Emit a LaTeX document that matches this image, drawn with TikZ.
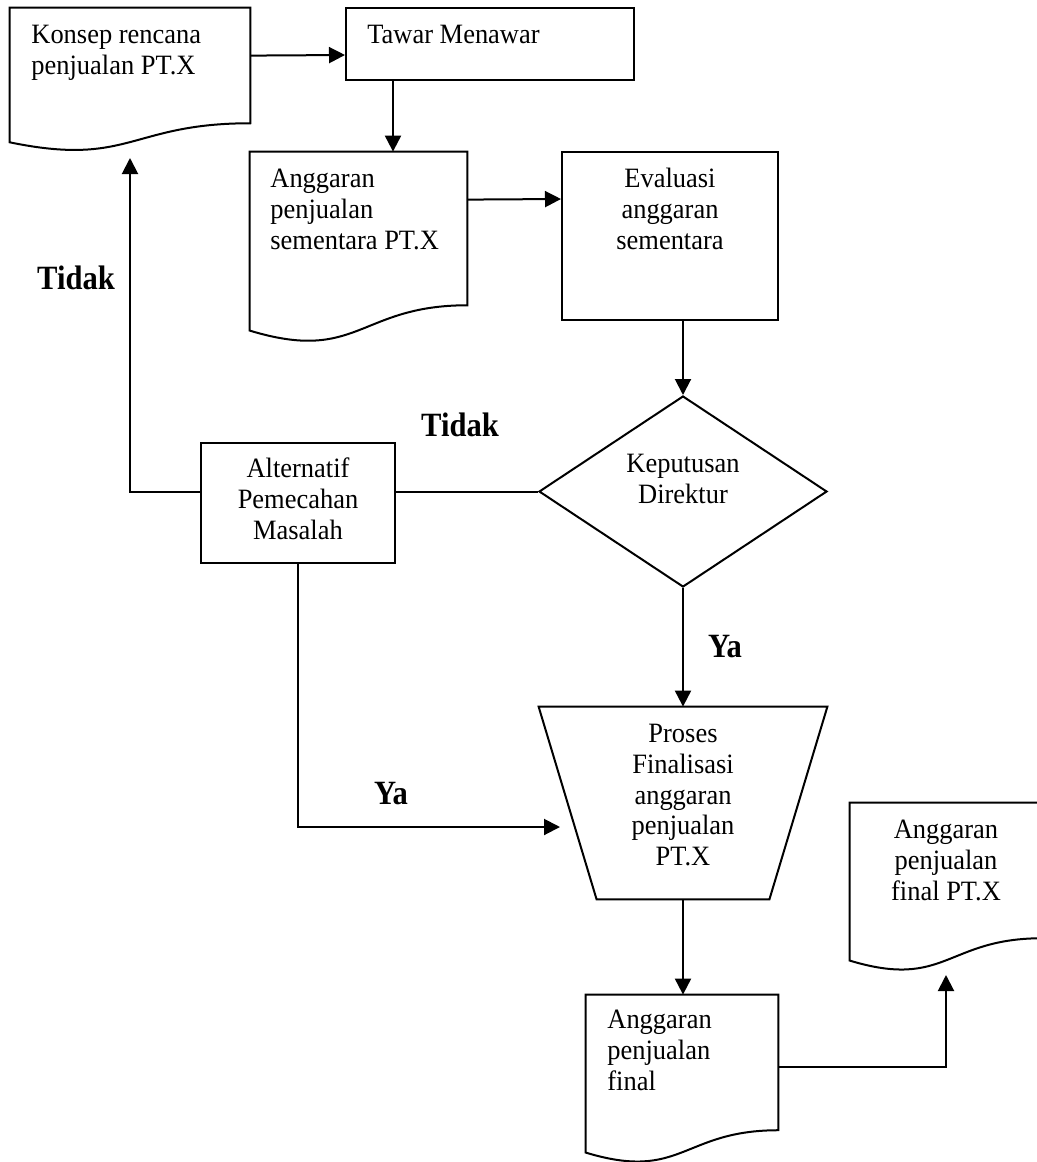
\documentclass[tikz,border=0pt]{standalone}
\usepackage{fontspec}
\setmainfont{Liberation Serif}
\newfontfamily\bodyfont[FakeStretch=0.945]{Liberation Serif}
\newfontfamily\lblfont[FakeStretch=0.9]{Liberation Serif Bold}
\usetikzlibrary{arrows.meta,calc,fit,shapes.geometric}
\newcommand\firstln{\rule{0pt}{12pt}}
\newcommand\docoutline[1]{%
  \draw[shapeline] (#1.north west) -- (#1.north east)
    -- ($(#1.north east)!0.802!(#1.south east)$)
    .. controls ($(#1.north)!0.802!(#1.south)$) and ($(#1.north)!1.107!(#1.south)$)
    .. ($(#1.north west)!0.934!(#1.south west)$) -- cycle;}
\begin{document}
\begin{tikzpicture}[x=0.5pt,y=-0.5pt,
  shapeline/.style={line width=1pt, line join=miter},
  rbox/.style={draw, line width=1pt, inner sep=0pt},
  docbox/.style={draw=none, inner sep=0pt},
  arr/.style={line width=1pt, -{Triangle[length=8pt,width=8pt]}},
  conn/.style={line width=1pt},
  txt/.style={inner sep=0pt, font=\bodyfont\fontsize{14}{15.4}\selectfont},
  ltxt/.style={txt, anchor=north west, align=left},
  ctxt/.style={txt, anchor=north, align=center},
  lbl/.style={inner sep=0pt, anchor=base, font=\lblfont\fontsize{17}{20}\selectfont}]
\useasboundingbox (0,0) rectangle (1037,1162);
\fill[white] (0,0) rectangle (1037,1162);
\clip (0,0) rectangle (1037,1162);
% shapes
\node[docbox, fit={(10,8) (250,151.4)}] (konsep) {};
\node[rbox, fit={(346,8) (634,80)}] (tawar) {};
\node[docbox, fit={(250,152) (467,342.8)}] (sem) {};
\node[rbox, fit={(562,152) (778,320)}] (eval) {};
\node[rbox, fit={(201,443) (395,563)}] (alt) {};
\node[diamond, draw, line width=1pt, inner sep=0pt, minimum width=144pt, minimum height=95.5pt] (dir) at (683,491.5) {};
\node[docbox, fit={(539,707) (827,899)}] (proc) {};
\node[docbox, fit={(586,995) (778,1163.3)}] (fin) {};
\node[docbox, fit={(850,803) (1042,971.3)}] (finpt) {};
\docoutline{konsep}
\docoutline{sem}
\docoutline{fin}
\docoutline{finpt}
\draw[shapeline] (proc.north west) -- (proc.north east) -- ([xshift=-29pt]proc.south east) -- ([xshift=29pt]proc.south west) -- cycle;
% texts
\node[ltxt] (konsep-t) at (31,19) {\firstln Konsep rencana\\penjualan PT.X};
\node[ltxt] (tawar-t) at (367,19) {\firstln Tawar Menawar};
\node[ltxt] (sem-t) at (270,163) {\firstln Anggaran\\penjualan\\sementara PT.X};
\node[ctxt] (eval-t) at (670,163) {\firstln Evaluasi\\anggaran\\sementara};
\node[ctxt] (alt-t) at (298,453) {\firstln Alternatif\\Pemecahan\\Masalah};
\node[ctxt] (dir-t) at (683,448) {\firstln Keputusan\\Direktur};
\node[ctxt] (proc-t) at (683,718) {\firstln Proses\\Finalisasi\\anggaran\\penjualan\\PT.X};
\node[ltxt] (fin-t) at (607,1004) {\firstln Anggaran\\penjualan\\final};
\node[ctxt] (finpt-t) at (946,814) {\firstln Anggaran\\penjualan\\final PT.X};
% labels
\node[lbl] (tidak1) at (76,289) {Tidak};
\node[lbl] (tidak2) at (460,436) {Tidak};
\node[lbl] (ya1) at (725,657) {Ya};
\node[lbl] (ya2) at (391,804) {Ya};
% free ends
\coordinate (ret) at (130,158);
\coordinate (ya2end) at (560,827);
\coordinate (finend) at (946,975);
% connectors
\draw[arr] ([yshift=-24pt]konsep.north east) -- ([yshift=-24pt]tawar.north west);
\draw[arr] ([xshift=24pt]tawar.south west) coordinate (t1) -- (t1 |- sem.north);
\draw[arr] ([yshift=-24pt]sem.north east) -- ([yshift=-24pt]eval.north west);
\draw[arr] (eval.south -| dir.north) -- (dir.north);
\draw[conn] (dir.west) -- (dir.west -| alt.east);
\draw[arr] (dir.west -| alt.west) -| (ret);
\draw[arr] (dir.south) -- (proc.north);
\draw[arr] (alt.south) |- (ya2end);
\draw[arr] (proc.south) -- (proc.south |- fin.north);
\draw[arr] ([yshift=-36pt]fin.north east) -| (finend);
\end{tikzpicture}
\end{document}
